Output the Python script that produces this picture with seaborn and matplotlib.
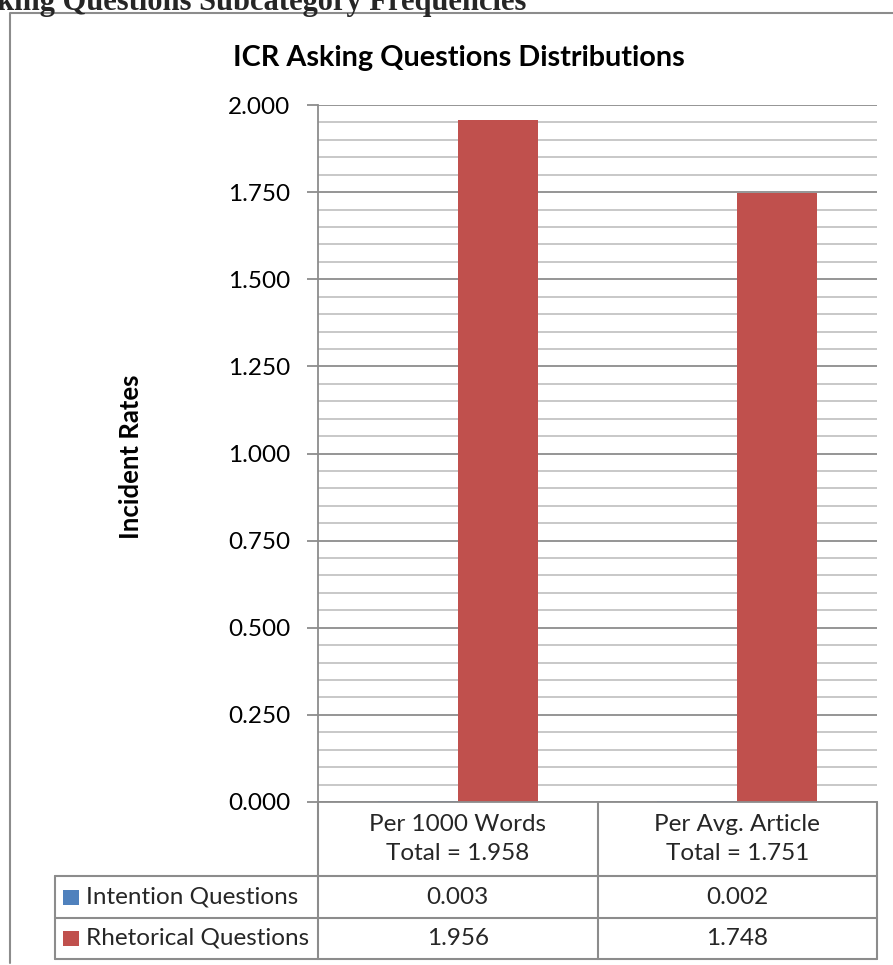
import numpy as np
import pandas as pd
import matplotlib
matplotlib.use("Agg")
import matplotlib.pyplot as plt
from matplotlib.ticker import MultipleLocator, FormatStrFormatter
from matplotlib.patches import Rectangle
from matplotlib.lines import Line2D
import seaborn as sns

sns.set_theme(style="white")
plt.rcParams['font.family'] = ['Lato', 'DejaVu Sans']

# data
categories = ["Per 1000 Words", "Per Avg. Article"]
totals = ["1.958", "1.751"]
series = ["Intention Questions", "Rhetorical Questions"]
intention = [0.003, 0.002]
rhetorical = [1.956, 1.748]
colors = ["#4F81BD", "#C0504D"]

df = pd.DataFrame({
    "category": categories * 2,
    "series": [series[0]] * 2 + [series[1]] * 2,
    "value": intention + rhetorical,
})

W, H = 893, 965
grey = "#8c8c8c"
light = "#c4c4c4"

fig = plt.figure(figsize=(W / 100, H / 100), dpi=100)

def px(x0, y0, x1, y1):
    return [x0 / W, 1 - y1 / H, (x1 - x0) / W, (y1 - y0) / H]

ax = fig.add_axes(px(318, 105, 877, 802))

sns.barplot(data=df, x="category", y="value", hue="series", palette=colors,
            width=0.572, gap=0, saturation=1, linewidth=0, legend=False, ax=ax)

ax.set_xlim(-0.5, 1.5)
ax.set_ylim(0, 2)
ax.yaxis.set_major_locator(MultipleLocator(0.25))
ax.yaxis.set_minor_locator(MultipleLocator(0.05))
ax.yaxis.set_major_formatter(FormatStrFormatter("%.3f"))
ax.grid(which="minor", axis="y", color=light, lw=1.3)
ax.grid(which="major", axis="y", color=grey, lw=1.3)
ax.set_axisbelow(True)
ax.tick_params(axis="y", which="major", length=8, width=1.3, color=grey,
               pad=12, labelsize=17.5, labelcolor="black", left=True)
ax.tick_params(axis="y", which="minor", length=0)
ax.tick_params(axis="x", length=0, labelbottom=False)
ax.set_xlabel("")
ax.set_ylabel("Incident Rates", fontsize=18.5, fontweight="bold", color="black")
ax.yaxis.set_label_coords((143 - 318) / 559, 0.495)
for s in ["top", "right"]:
    ax.spines[s].set_visible(False)
for s in ["left", "bottom"]:
    ax.spines[s].set_color(grey)
    ax.spines[s].set_linewidth(1.3)

fig.text(459 / W, 1 - 58 / H, "ICR Asking Questions Distributions", fontsize=20.7,
         fontweight="bold", color="black", ha="center", va="center")

# data table under the axis
hdr_b = -(876 - 802) / 697
r1_b = -(918 - 802) / 697
r2_b = -(959 - 802) / 697
leg_l = (55 - 318) / 559
line_kw = dict(color=grey, lw=1.5, transform=ax.transAxes, clip_on=False)
ax.plot([0, 0], [0, r2_b], **line_kw)
ax.plot([0.5, 0.5], [0, r2_b], **line_kw)
ax.plot([1, 1], [0, r2_b], **line_kw)
ax.plot([leg_l, leg_l], [hdr_b, r2_b], **line_kw)
for yy in [hdr_b, r1_b, r2_b]:
    ax.plot([leg_l, 1], [yy, yy], **line_kw)

blend = ax.get_xaxis_transform()
for i, (cat, tot) in enumerate(zip(categories, totals)):
    ax.text(i, hdr_b / 2, f"{cat}\nTotal = {tot}", transform=blend, ha="center",
            va="center", fontsize=17.5, linespacing=1.45, clip_on=False)
    ax.text(i, (hdr_b + r1_b) / 2, f"{intention[i]:.3f}", transform=blend,
            ha="center", va="center", fontsize=17.5, clip_on=False)
    ax.text(i, (r1_b + r2_b) / 2, f"{rhetorical[i]:.3f}", transform=blend,
            ha="center", va="center", fontsize=17.5, clip_on=False)

for j, (name, col) in enumerate(zip(series, colors)):
    top, bot = [(hdr_b, r1_b), (r1_b, r2_b)][j]
    mid = (top + bot) / 2
    ax.add_patch(Rectangle(((63 - 318) / 559, mid - 7.5 / 697), 16 / 559, 15 / 697,
                           facecolor=col, edgecolor="none", transform=ax.transAxes,
                           clip_on=False))
    ax.text((86 - 318) / 559, mid, name, transform=ax.transAxes, ha="left",
            va="center", fontsize=17.5, clip_on=False)

# chart border and page heading
fig.add_artist(Line2D([10 / W, 10 / W, 1], [1 - 963 / H, 1 - 13 / H, 1 - 13 / H],
                      color=grey, lw=1.5, transform=fig.transFigure))
fig.text(-3 / W, 1 - 10 / H, "king Questions Subcategory Frequencies",
         family=["Liberation Serif", "DejaVu Serif"], fontweight="bold",
         fontsize=22, va="baseline", ha="left")

fig.savefig("out.png", dpi=100)
